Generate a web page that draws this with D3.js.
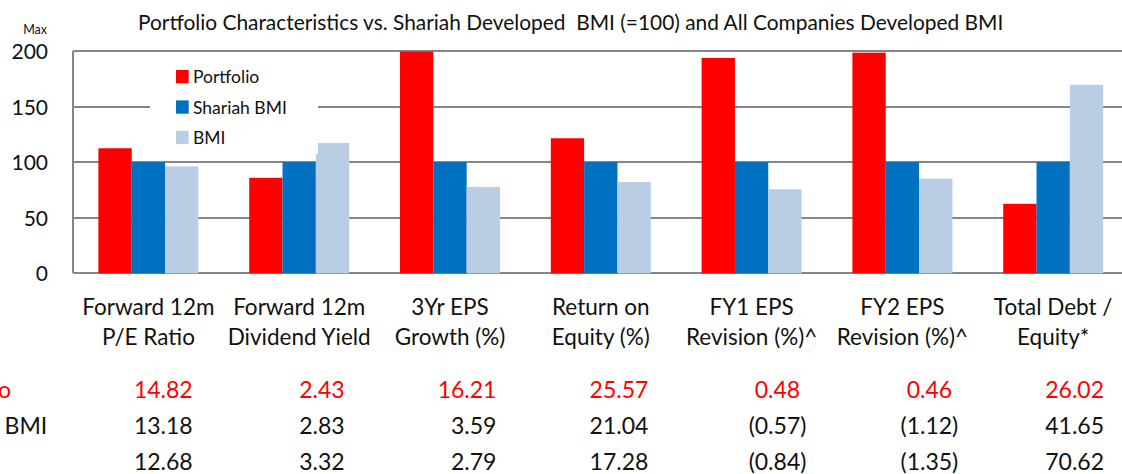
<!DOCTYPE html>
<html>
<head>
<meta charset="utf-8">
<style>
  body { margin: 0; background: white; }
  svg { display: block; font-family: Lato, "Open Sans", sans-serif; }
  .grid line, .axis-line { stroke: #868686; stroke-width: 2px; shape-rendering: crispEdges; }
  text { fill: #111; white-space: pre; }
</style>
</head>
<body>
<svg width="1122" height="474"></svg>
<script src="https://d3js.org/d3.v7.min.js"></script>
<script>

// category labels (two lines each)
var categories = [
  ["Forward 12m", "P/E Ratio"],
  ["Forward 12m", "Dividend Yield"],
  ["3Yr EPS", "Growth (%)"],
  ["Return on", "Equity (%)"],
  ["FY1 EPS", "Revision (%)^"],
  ["FY2 EPS", "Revision (%)^"],
  ["Total Debt /", "Equity*"]
];
var seriesNames = ["Portfolio", "Shariah BMI", "BMI"];
var seriesColors = ["#ff0000", "#0070c0", "#b9cde5"];

// index values (Shariah BMI = 100, capped at Max 200)
var portfolioIdx = [112.5, 85.9, 199.5, 121.5, 193.7, 198.5, 62.5];
var shariahIdx   = [100, 100, 100, 100, 100, 100, 100];
var bmiIdx       = [96.2, 117.3, 77.7, 82.1, 75.6, 85.1, 169.6];

// raw values for the table underneath
var portfolioRaw = [14.82, 2.43, 16.21, 25.57, 0.48, 0.46, 26.02];
var shariahRaw   = [13.18, 2.83, 3.59, 21.04, -0.57, -1.12, 41.65];
var bmiRaw       = [12.68, 3.32, 2.79, 17.28, -0.84, -1.35, 70.62];

var yTicks = [0, 50, 100, 150, 200];

var title = "Portfolio Characteristics vs. Shariah Developed  BMI (=100) and All Companies Developed BMI";

var svg = d3.select("svg"),
    width = +svg.attr("width"),
    height = +svg.attr("height");

var plotLeft = 73, plotTop = 51, plotBottom = 273.3,
    step = 150.8;

var x0 = d3.scaleBand()
  .domain(d3.range(categories.length))
  .range([plotLeft, plotLeft + step * categories.length])
  .paddingInner(0.337)
  .paddingOuter(0.337 / 2);

var x1 = d3.scaleBand()
  .domain(seriesNames)
  .range([0, x0.bandwidth()]);

var y = d3.scaleLinear()
  .domain([0, 200])
  .range([plotBottom, plotTop]);

var tableX = d3.scaleLinear()
  .domain([0, categories.length - 1])
  .range([192.7, 1104]);

var color = d3.scaleOrdinal().domain(seriesNames).range(seriesColors);

// gridlines
svg.append("g").attr("class", "grid")
  .selectAll("line")
  .data(yTicks)
  .enter().append("line")
  .attr("x1", plotLeft)
  .attr("x2", width + 10)
  .attr("y1", d => y(d))
  .attr("y2", d => y(d));

svg.append("line").attr("class", "axis-line")
  .attr("x1", plotLeft).attr("x2", plotLeft)
  .attr("y1", y(200)).attr("y2", y(0));

// y tick labels
svg.append("g")
  .selectAll("text")
  .data(yTicks)
  .enter().append("text")
  .attr("x", 48)
  .attr("y", d => y(d) + 8)
  .attr("text-anchor", "end")
  .style("font-size", "21px")
  .text(d => d);

svg.append("text")
  .attr("x", 47).attr("y", 34)
  .attr("text-anchor", "end")
  .style("font-size", "12.5px")
  .text("Max");

// bars
var rows = categories.map((c, i) => ({
  i: i,
  vals: [portfolioIdx[i], shariahIdx[i], bmiIdx[i]]
}));

var group = svg.append("g")
  .selectAll("g")
  .data(rows)
  .enter().append("g")
  .attr("transform", d => "translate(" + x0(d.i) + ",0)");

group.selectAll("rect")
  .data(d => d.vals.map((v, k) => ({ key: seriesNames[k], value: v })))
  .enter().append("rect")
  .attr("x", d => x1(d.key))
  .attr("width", x1.bandwidth())
  .attr("y", d => y(d.value))
  .attr("height", d => y(0) - y(d.value))
  .attr("fill", d => color(d.key));

// legend
var legend = svg.append("g");
legend.append("rect")
  .attr("x", 150).attr("y", 58)
  .attr("width", 168).attr("height", 96)
  .attr("fill", "white");

var legendItem = legend.selectAll("g")
  .data(seriesNames)
  .enter().append("g")
  .attr("transform", (d, k) => "translate(176," + (70 + k * 30.4) + ")");

legendItem.append("rect")
  .attr("width", 12.7).attr("height", 13.3)
  .attr("fill", d => color(d));

legendItem.append("text")
  .attr("x", 17).attr("y", 13.3)
  .style("font-size", "17.5px")
  .text(d => d);

// category labels
var catLabel = svg.append("g")
  .selectAll("text")
  .data(categories)
  .enter().append("text")
  .attr("text-anchor", "middle")
  .style("font-size", "22.5px");

catLabel.each(function(d, i) {
  var t = d3.select(this);
  d.forEach((line, j) => {
    t.append("tspan")
      .attr("x", x0(i) + x0.bandwidth() / 2)
      .attr("y", 315 + j * 30)
      .text(line);
  });
});

// title, fitted to the reference width
var titleText = svg.append("text")
  .attr("x", 138).attr("y", 30)
  .style("font-size", "17.5px")
  .text(title);
var tl = titleText.node().getComputedTextLength();
titleText.style("font-size", (17.5 * 866 / tl) + "px");

// data table
var tableRows = [
  { name: "Portfolio", vals: portfolioRaw, fill: "#ff0000" },
  { name: "Shariah BMI", vals: shariahRaw, fill: "#111" },
  { name: "BMI", vals: bmiRaw, fill: "#111" }
];

var fmt = d3.format(".2f");
var probe = svg.append("text").style("font-size", "23px").text(")");
var parenW = probe.node().getComputedTextLength();
probe.remove();

var tRow = svg.append("g")
  .selectAll("g")
  .data(tableRows)
  .enter().append("g")
  .attr("transform", (d, r) => "translate(0," + (398 + r * 36) + ")")
  .style("font-size", "23px");

tRow.append("text")
  .attr("x", -76)
  .style("fill", d => d.fill)
  .text(d => d.name);

tRow.selectAll("text.val")
  .data(d => d.vals.map(v => ({ v: v, fill: d.fill })))
  .enter().append("text")
  .attr("class", "val")
  .attr("x", (d, i) => tableX(i) + (d.v < 0 ? parenW : 0))
  .attr("text-anchor", "end")
  .style("fill", d => d.fill)
  .text(d => d.v < 0 ? "(" + fmt(-d.v) + ")" : fmt(d.v));

</script>
</body>
</html>
